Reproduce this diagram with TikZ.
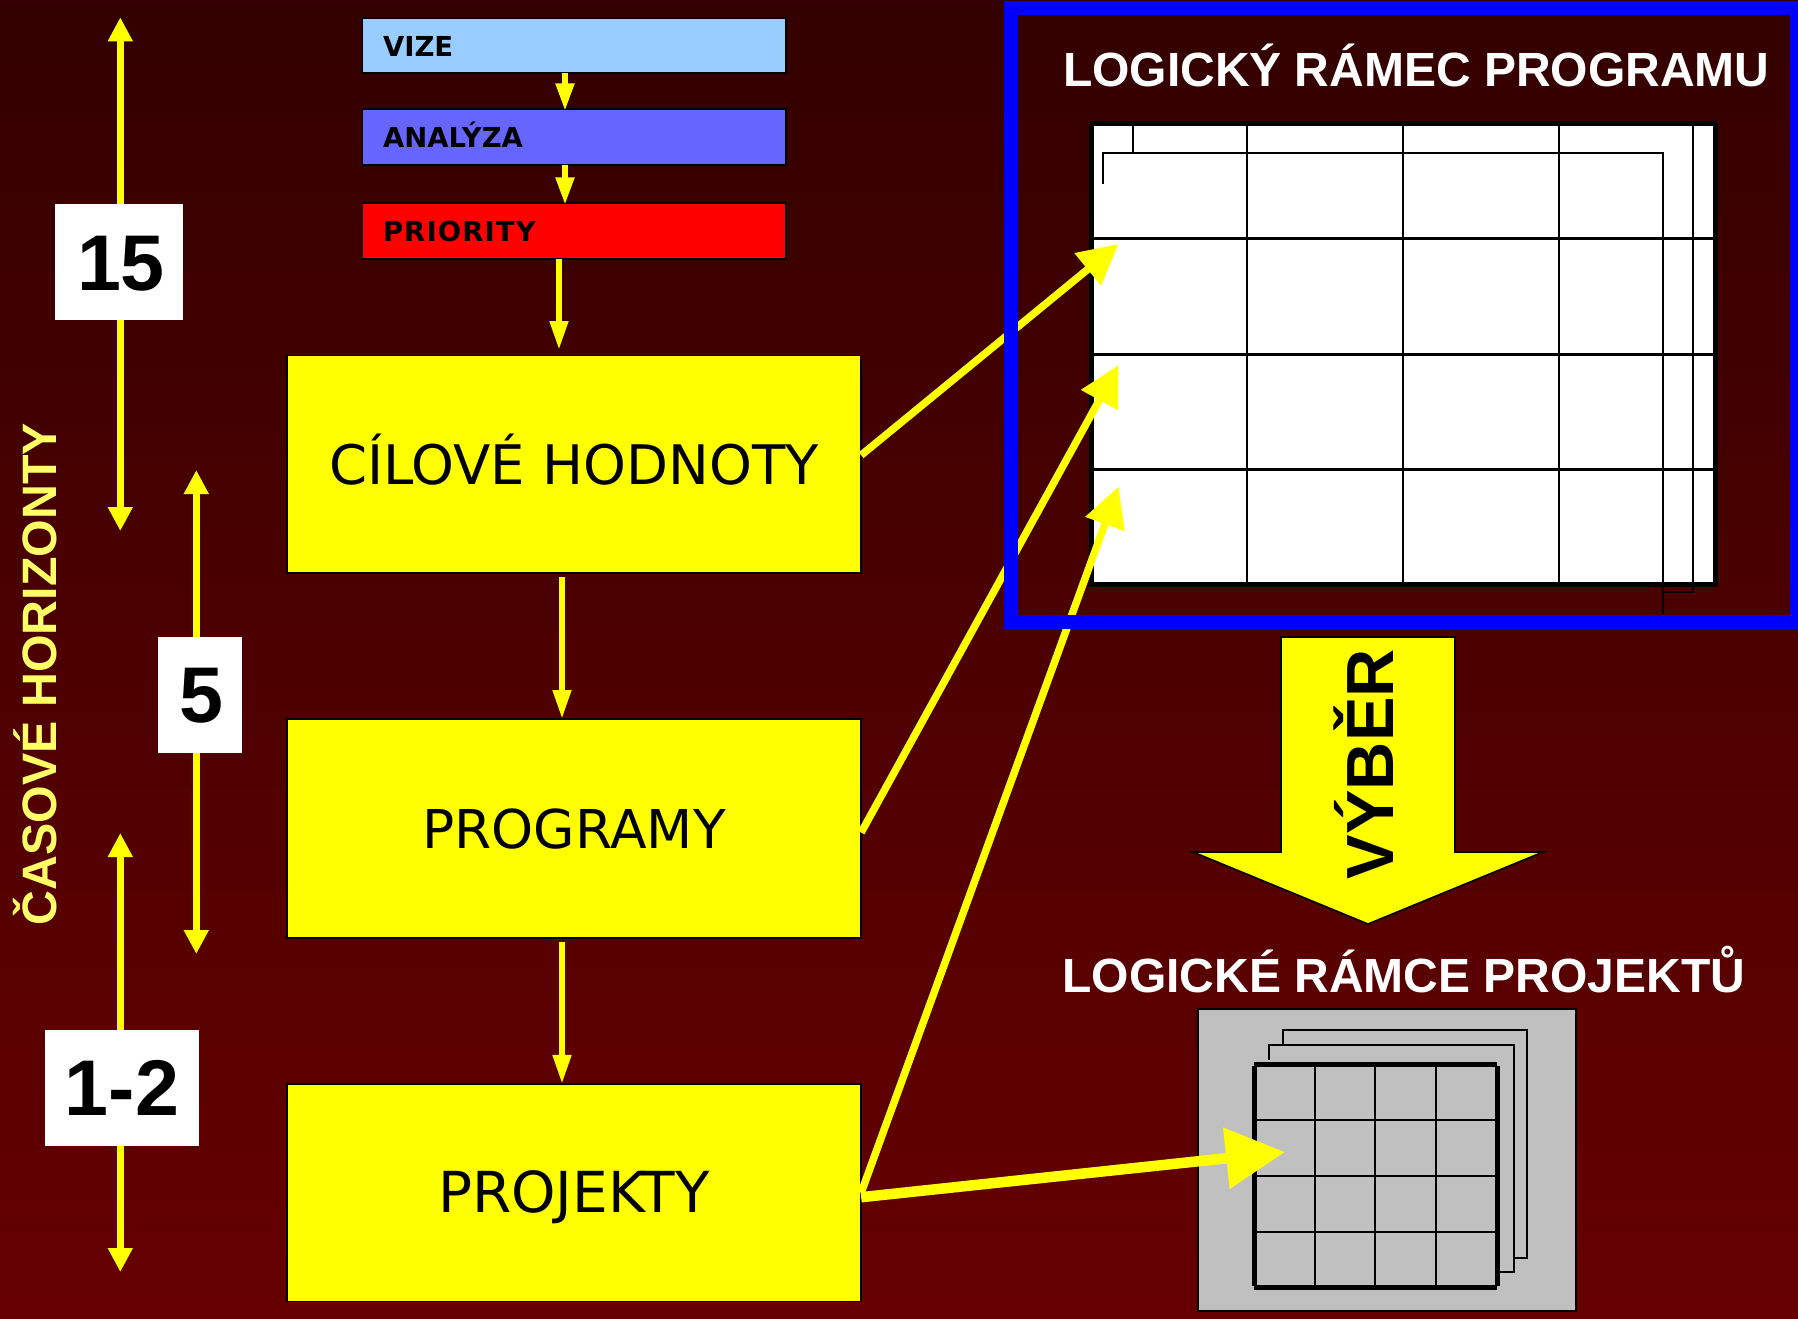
\documentclass[tikz,border=0pt]{standalone}
\usepackage{fontspec}
\setmainfont{Liberation Sans}
\newfontfamily\verd{DejaVu Sans}
\usetikzlibrary{arrows.meta,calc}
\definecolor{bgtop}{RGB}{51,0,0}
\definecolor{bgbot}{RGB}{102,0,0}
\definecolor{vizecol}{RGB}{153,204,255}
\definecolor{anacol}{RGB}{102,102,255}
\definecolor{pale}{RGB}{255,255,102}
\definecolor{yel}{RGB}{255,255,0}
\definecolor{purered}{RGB}{255,0,0}
\definecolor{pureblue}{RGB}{0,0,255}
\definecolor{sheet}{RGB}{192,192,192}
\definecolor{ink}{RGB}{0,0,0}
\definecolor{paper}{RGB}{255,255,255}
\tikzset{
  boxnode/.style={draw=ink,line width=1.6pt,inner sep=0pt,outer sep=0pt},
  topbox/.style={boxnode,minimum width=423.5pt,minimum height=55.5pt},
  mainbox/.style={boxnode,fill=yel,minimum width=574.3pt,text=ink,text height=39.7pt,text depth=0pt,font=\verd\fontsize{54.5}{54.5}\selectfont},
  numbox/.style={fill=paper,inner sep=0pt,outer sep=0pt,text=ink,text height=56pt,text depth=0pt,font=\bfseries\fontsize{79}{79}\selectfont},
  toplabel/.style={anchor=base west,inner sep=0pt,outer sep=0pt,text=ink,font=\verd\bfseries\fontsize{27.5}{27.5}\selectfont},
  title/.style={anchor=base west,inner sep=0pt,outer sep=0pt,text=paper,font=\bfseries\fontsize{48}{48}\selectfont},
  smallarr/.style={yel,line width=6.5pt,-{Triangle[length=28pt,width=17.5pt]}},
  downarr/.style={yel,line width=6pt,-{Triangle[length=29pt,width=17.5pt]}},
  bothways/.style={yel,line width=7pt,{Triangle[length=24pt,width=23.5pt]}-{Triangle[length=24pt,width=23.5pt]}},
  diag/.style={yel,line width=7.5pt,-{Triangle[length=40pt,width=40pt]}},
  diagbig/.style={yel,line width=10.5pt,-{Triangle[length=59pt,width=59pt]}},
  thinrule/.style={ink,line width=2.4pt},
  hairrule/.style={ink,line width=1.8pt},
  thickrule/.style={ink,line width=5pt},
}
\begin{document}
\begin{tikzpicture}[x=1pt,y=-1pt]
\useasboundingbox (0,0) rectangle (1798,1318);
\shade[top color=bgtop,bottom color=bgbot] (0,0) rectangle (1798,1318);

% top boxes
\node[topbox,fill=vizecol] (vize) at (574.4,45.5) {};
\node[topbox,fill=anacol] (ana) at (574.4,137) {};
\node[topbox,fill=purered] (prio) at (574.4,231) {};
\node[toplabel] (vizet) at (383,56.5) {VIZE};
\node[toplabel] (anat) at (383,147.3) {ANALÝZA};
\node[toplabel] (priot) at (383,241.5) {\addfontfeature{LetterSpace=4}PRIORITY};

% main boxes
\node[mainbox,minimum height=217.5pt] (cil) at (574,464.2) {CÍLOVÉ HODNOTY};
\node[mainbox,minimum height=219pt,font=\verd\fontsize{53.5}{53.5}\selectfont] (prog) at (574,828.5) {PROGRAMY};
\node[mainbox,minimum height=217.5pt,font=\verd\fontsize{56.5}{56.5}\selectfont] (proj) at (574,1192.7) {PROJEKTY};

\draw[smallarr] ([xshift=-9.4pt]vize.south) -- ([xshift=-9.4pt,yshift=-2pt]ana.north);
\draw[smallarr] ([xshift=-9.4pt]ana.south) -- ([xshift=-9.4pt,yshift=-2pt]prio.north);
\coordinate (pe) at (559,350);
\draw[downarr] (prio.south -| pe) -- (pe);
\draw[downarr] ([xshift=-12pt,yshift=-4pt]cil.south) -- ([xshift=-12pt]prog.north);
\draw[downarr] ([xshift=-12pt,yshift=-4pt]prog.south) -- ([xshift=-12pt]proj.north);

% left scale
\coordinate (a1) at (120.3,17.3); \coordinate (b1) at (120.3,531);
\coordinate (a2) at (196.3,470); \coordinate (b2) at (196.3,954);
\coordinate (a3) at (120.3,833); \coordinate (b3) at (120.3,1272);
\draw[bothways] (a1) -- (b1);
\draw[bothways] (a2) -- (b2);
\draw[bothways] (a3) -- (b3);
\node[numbox,minimum width=128pt,minimum height=116pt] (n15) at (119,262) {\hspace*{4pt}15};
\node[numbox,minimum width=84pt,minimum height=116pt] (n5) at (200,694.8) {\hspace*{2pt}5};
\node[numbox,minimum width=154pt,minimum height=116pt] (n12) at (122,1087.8) {1-2};
\node[anchor=base west,rotate=90,inner sep=0pt,outer sep=0pt,text=pale,font=\bfseries\fontsize{48.3}{48.3}\selectfont] (cas) at (56.7,925) {ČASOVÉ HORIZONTY};

% program logframe grid
\fill[paper] (1092,124) rectangle (1715,584);
\foreach \gx in {1247,1403,1559} \draw[thinrule] (\gx,124) -- (\gx,584);
\foreach \gy in {238.5,354.5,469.5} \draw[thinrule] (1092,\gy) -- (1715,\gy);
\draw[hairrule] (1133,126) -- (1133,153);
\draw[hairrule] (1103,184) -- (1103,153) -- (1663,153) -- (1663,615);
\draw[hairrule] (1693,126) -- (1693,592) -- (1663,592);
\draw[thickrule] (1090,123.7) -- (1717,123.7);
\draw[thickrule] (1091.8,126) -- (1091.8,587);
\draw[thickrule] (1715,124) -- (1715,587);
\draw[thickrule] (1090,584.3) -- (1717,584.3);
\node[title] (t1) at (1063,86.5) {LOGICKÝ RÁMEC PROGRAMU};

% project logframes
\node[draw=ink,line width=1.6pt,fill=sheet,minimum width=378pt,minimum height=302pt,inner sep=0pt,outer sep=0pt] (gray) at (1387,1160) {};
\draw[hairrule] (1283,1045) -- (1283,1030) -- (1527,1030) -- (1527,1258) -- (1514,1258);
\draw[hairrule] (1269,1060) -- (1269,1045) -- (1514,1045) -- (1514,1272) -- (1499,1272);
\foreach \gx in {1315,1375,1436} \draw[thinrule] (\gx,1064) -- (\gx,1288);
\foreach \gy in {1120,1176,1232} \draw[thinrule] (1254,\gy) -- (1497,\gy);
\draw[thickrule] (1254,1064.5) -- (1497,1064.5);
\draw[thickrule] (1254,1287.5) -- (1497,1287.5);
\draw[thickrule] (1254,1066) -- (1254,1286);
\draw[thickrule] (1497,1066) -- (1497,1286);
\node[title] (t2) at (1062.5,992) {LOGICKÉ RÁMCE PROJEKTŮ};

% long arrows
\coordinate (g1) at (1118.6,244);
\coordinate (g2) at (1118.6,365);
\coordinate (g3) at (1118.6,486.5);
\coordinate (g4) at (1285,1152);
\draw[diag] ([yshift=9pt]cil.east) -- (g1);
\draw[diag] ([yshift=-4pt]prog.east) -- (g2);
\draw[diag] (proj.east) -- (g3);
\draw[diagbig] ([yshift=-4.5pt]proj.east) -- (g4);

% blue frame, over the arrows
\node[draw=pureblue,line width=14pt,inner sep=0pt,outer sep=0pt,minimum width=786pt,minimum height=614pt] (frame) at (1404,314.7) {};

% selection arrow
\draw[ink,line width=1.6pt,fill=yel,line join=miter] (1281,637) -- (1455,637) -- (1455,852) -- (1543,852) -- (1368,924) -- (1193,852) -- (1281,852) -- cycle;
\node[anchor=base west,rotate=90,inner sep=0pt,outer sep=0pt,text=ink,font=\bfseries\fontsize{66.7}{66.7}\selectfont] (vyb) at (1393,879) {VÝBĚR};
\end{tikzpicture}
\end{document}
